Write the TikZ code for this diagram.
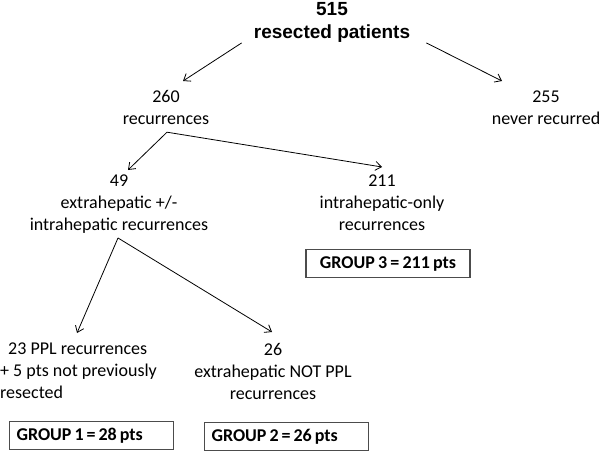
\documentclass[tikz,border=0pt]{standalone}
\usepackage{fontspec}
\setmainfont{Carlito}
\newfontfamily\arialfont{Liberation Sans}
\usetikzlibrary{positioning, arrows.meta}

\begin{document}
\begin{tikzpicture}[x=1pt, y=-1pt,
  txt/.style={inner sep=0pt, align=center, font=\fontsize{18}{22}\selectfont},
  grpbox/.style={draw=black!70, line width=1.2pt, text width=150pt, inner xsep=7pt, inner ysep=0pt, minimum height=28pt, text height=12pt, text depth=3pt, font=\fontsize{18}{22}\selectfont\bfseries, execute at begin node={\spaceskip=3pt plus 1pt\relax}},
  arr/.style={-{Straight Barb[length=6pt,width=9pt]}, line width=0.8pt}]

\useasboundingbox (0,0) rectangle (600,452);

% Top
\node[inner sep=0pt, align=center, anchor=north, font=\arialfont\fontsize{19}{23}\selectfont\bfseries] (resected) at (332,2.5) {515\\resected patients};

% Second row
\node[txt, anchor=north] (rec) at (166,90.5) {260\\recurrences};
\node[txt, anchor=north] (never) at (546,90.5) {255\\never recurred};

% Third row
\node[txt, anchor=north] (extra) at (119,175) {49\\extrahepatic +/-\\intrahepatic recurrences};
\node[txt, anchor=north] (intra) at (382,175) {211\\intrahepatic-only\\recurrences};
\node[grpbox, align=center, below=18pt of intra, xshift=6pt] (grp3) {GROUP 3 = 211 pts};

% Bottom row
\node[txt, align=left, anchor=north west] (ppl) at (0,343) {\hspace*{8pt}23 PPL recurrences\\+ 5 pts not previously\\resected};
\node[txt, anchor=north] (notppl) at (273,343) {26\\extrahepatic NOT PPL\\recurrences};
\node[grpbox, align=left, anchor=north west] (grp1) at (9,421) {GROUP 1 = 28 pts};
\node[grpbox, align=left, anchor=north west] (grp2) at (204,422) {GROUP 2 = 26 pts};

% Arrows
\draw[arr] ([xshift=-12pt]resected.south west) -- ([xshift=17pt, yshift=9.5pt]rec.north);
\draw[arr] ([xshift=16pt]resected.south east) -- ([xshift=-44pt, yshift=9.5pt]never.north);

\draw[arr] ([xshift=1pt, yshift=-7pt]rec.south) -- ([xshift=9pt, yshift=5pt]extra.north);
\draw[arr] ([xshift=1pt, yshift=-7pt]rec.south) -- ([yshift=8pt]intra.north);

\draw[arr] ([xshift=-1pt, yshift=-4pt]extra.south) -- ([xshift=77pt, yshift=10pt]ppl.north west);
\draw[arr] ([xshift=-1pt, yshift=-4pt]extra.south) -- ([xshift=-1pt, yshift=11pt]notppl.north);

\end{tikzpicture}
\end{document}
